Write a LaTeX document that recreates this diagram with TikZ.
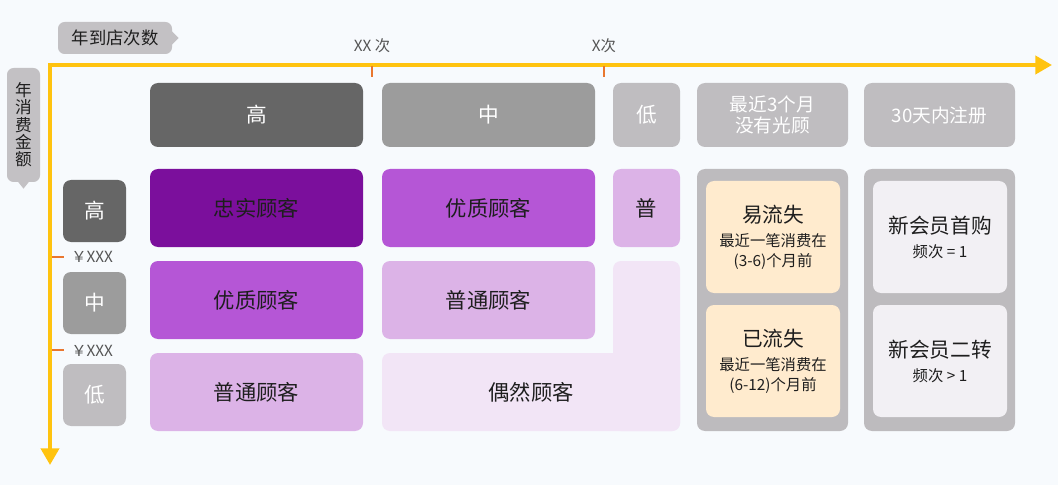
\documentclass[tikz,border=0pt]{standalone}
\usepackage{fontspec}
\setmainfont{Noto Sans CJK SC}
\usepackage{tikz}
\usetikzlibrary{arrows.meta, positioning, calc}

\definecolor{bgcol}{HTML}{F7FAFD}
\definecolor{axisyellow}{HTML}{FFC30F}
\definecolor{tickorange}{HTML}{E9772F}
\definecolor{graydark}{HTML}{666666}
\definecolor{graymid}{HTML}{9C9C9C}
\definecolor{graylight}{HTML}{BFBDC0}
\definecolor{panelgray}{HTML}{BDBBBE}
\definecolor{calloutgray}{HTML}{C3C1C4}
\definecolor{purpleA}{HTML}{7B0F9C}
\definecolor{purpleB}{HTML}{B556D6}
\definecolor{purpleC}{HTML}{DCB3E7}
\definecolor{purpleD}{HTML}{F2E5F6}
\definecolor{peach}{HTML}{FFEBCE}
\definecolor{palegray}{HTML}{F2F0F4}
\definecolor{txtdark}{HTML}{1E1E1E}
\definecolor{txtgray}{HTML}{555555}

\begin{document}
\begin{tikzpicture}[
  x=0.75pt, y=-0.75pt,
  box/.style={
    rounded corners=6pt,
    inner sep=0pt,
    outer sep=0pt,
    align=center
  },
  head/.style={box, text=white, minimum height=48pt,
    font=\fontsize{15.5}{18}\selectfont},
  rowhead/.style={box, text=white, minimum width=47.25pt,
    minimum height=46.5pt, font=\fontsize{15.5}{18}\selectfont},
  cell/.style={box, text=txtdark, minimum height=58.5pt,
    font=\fontsize{16}{18}\selectfont},
  wide/.style={minimum width=159.75pt},
  narrow/.style={minimum width=50.25pt},
  side/.style={minimum width=113.25pt},
  panel/.style={box, fill=panelgray, side, minimum height=196.5pt},
  subbox/.style={box, text=txtdark, minimum width=100.5pt,
    minimum height=84pt, font=\fontsize{11.5}{15}\selectfont},
  callout/.style={box, fill=calloutgray, text=txtdark, rounded corners=5pt},
  axisline/.style={line width=3pt, draw=axisyellow,
    {Triangle[length=12.5pt, width=13.5pt]}-{Triangle[length=12.5pt, width=13.5pt]}},
  tickmark/.style={line width=2pt, draw=tickorange},
  ticklabel/.style={text=txtgray, inner sep=0pt,
    font=\fontsize{11.5}{14}\selectfont}
]

% Canvas
\useasboundingbox (0,0) rectangle (1058,485);
\fill[bgcol] (0,0) rectangle (1058,485);

% Axes
\coordinate (corner) at (50,65);
\coordinate (xend) at (1052,65);
\coordinate (yend) at (50,465);
\draw[axisline] (yend) -- (corner) -- (xend);

% Axis titles
\node[callout, minimum width=85.5pt, minimum height=24pt,
  font=\fontsize{13}{15}\selectfont] (visits) at (115,38) {年到店次数};
\fill[calloutgray] ([yshift=5pt]visits.east) -- ([xshift=5pt]visits.east)
  -- ([yshift=-5pt]visits.east) -- cycle;
\node[callout, minimum width=24.75pt, minimum height=85.5pt,
  font=\fontsize{12.5}{13}\selectfont] (spend) at (23.5,125)
  {年\\消\\费\\金\\额};
\fill[calloutgray] ([xshift=-4pt]spend.south) -- ([yshift=-5pt]spend.south)
  -- ([xshift=4pt]spend.south) -- cycle;

% Ticks
\draw[tickmark] (372,66) -- (372,77);
\draw[tickmark] (604,66) -- (604,77);
\node[ticklabel] (xxci) at (372,46) {XX 次};
\node[ticklabel] (xci) at (604,46) {X次};
\draw[tickmark] (52,257) -- (64,257);
\draw[tickmark] (52,350) -- (64,350);
\node[ticklabel, anchor=west] (yenA) at (71,257) {￥XXX};
\node[ticklabel, anchor=west] (yenB) at (71,351) {￥XXX};

% Column headers
\node[head, wide, fill=graydark] (colhigh) at (256.5,115) {高};
\node[head, wide, fill=graymid] (colmid) at (488.5,115) {中};
\node[head, narrow, fill=graylight] (collow) at (646.5,115) {低};
\node[head, side, fill=graylight, font=\fontsize{14}{16}\selectfont]
  (colidle) at (772.5,115) {最近3个月\\没有光顾};
\node[head, side, fill=graylight, font=\fontsize{14}{16}\selectfont]
  (colnew) at (939.5,115) {30天内注册};

% Row headers
\node[rowhead, fill=graydark] (rowhigh) at (94.5,211) {高};
\node[rowhead, fill=graymid] (rowmid) at (94.5,303) {中};
\node[rowhead, fill=graylight] (rowlow) at (94.5,395) {低};

% Customer grid
\node[cell, wide, fill=purpleA] (loyal) at (256.5,208) {忠实顾客};
\node[cell, wide, fill=purpleB] (goodA) at (488.5,208) {优质顾客};
\node[cell, narrow, fill=purpleC] (plainA) at (646.5,208) {普};
\node[cell, wide, fill=purpleB] (goodB) at (256.5,300) {优质顾客};
\node[cell, wide, fill=purpleC] (plainB) at (488.5,300) {普通顾客};
\node[cell, wide, fill=purpleC] (plainC) at (256.5,392) {普通顾客};
\node[cell, narrow, fill=purpleD, minimum height=127.5pt] (casualtop)
  at (646.5,346) {};
\node[cell, fill=purpleD, minimum width=223.5pt] (casual)
  at (531,392) {偶然顾客};

% Lapsed members
\node[panel] (lapsed) at (772.5,300) {};
\node[subbox, fill=peach] (churnrisk) at (773,237)
  {{\fontsize{15.5}{18}\selectfont 易流失}\\[3pt]最近一笔消费在\\(3-6)个月前};
\node[subbox, fill=peach] (churned) at (773,361)
  {{\fontsize{15.5}{18}\selectfont 已流失}\\[3pt]最近一笔消费在\\(6-12)个月前};

% New members
\node[panel] (newmem) at (939.5,300) {};
\node[subbox, fill=palegray] (firstbuy) at (940,237)
  {{\fontsize{15.5}{18}\selectfont 新会员首购}\\[3pt]频次 = 1};
\node[subbox, fill=palegray] (secondbuy) at (940,361)
  {{\fontsize{15.5}{18}\selectfont 新会员二转}\\[3pt]频次 > 1};

\end{tikzpicture}
\end{document}
